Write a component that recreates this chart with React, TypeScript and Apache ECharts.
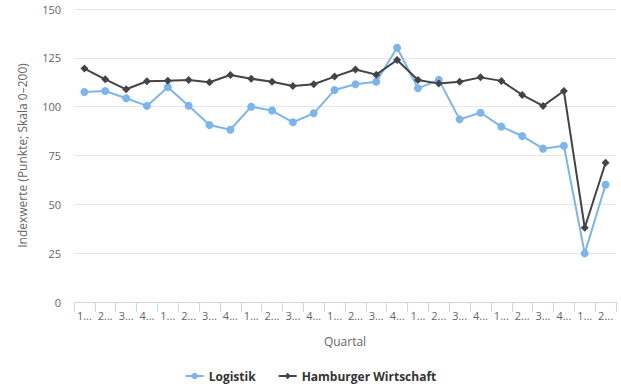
import React, { useEffect, useRef } from "react";
import * as echarts from "echarts";

const categories = [
  "1. Quartal 2014", "2. Quartal 2014", "3. Quartal 2014", "4. Quartal 2014",
  "1. Quartal 2015", "2. Quartal 2015", "3. Quartal 2015", "4. Quartal 2015",
  "1. Quartal 2016", "2. Quartal 2016", "3. Quartal 2016", "4. Quartal 2016",
  "1. Quartal 2017", "2. Quartal 2017", "3. Quartal 2017", "4. Quartal 2017",
  "1. Quartal 2018", "2. Quartal 2018", "3. Quartal 2018", "4. Quartal 2018",
  "1. Quartal 2019", "2. Quartal 2019", "3. Quartal 2019", "4. Quartal 2019",
  "1. Quartal 2020", "2. Quartal 2020",
];

const logistik = [
  107.5, 108, 104.3, 100.4, 110, 100.5, 90.6, 88.2, 100, 98, 92, 96.6,
  108.5, 111.5, 112.8, 130.2, 109.4, 113.7, 93.5, 96.9, 89.8, 85, 78.5, 80,
  24.9, 60,
];

const hamburgerWirtschaft = [
  119.5, 114, 108.9, 113, 113.3, 113.7, 112.5, 116.2, 114.3, 112.8, 110.6, 111.5,
  115.4, 119, 116.4, 123.9, 113.7, 111.8, 112.8, 115, 113.2, 106, 100.4, 108,
  38, 71.3,
];

const yTicks = { min: 0, max: 150, interval: 25 };

export default function App() {
  const ref = useRef<HTMLDivElement>(null);
  useEffect(() => {
    if (!ref.current) return;
    const chart = echarts.init(ref.current, undefined, { renderer: "svg" });
    const font = "'Open Sans', 'Noto Sans', sans-serif";
    chart.setOption({
      animation: false,
      textStyle: { fontFamily: font },
      grid: { left: 74, right: 5, top: 9, bottom: 89, containLabel: false },
      legend: {
        bottom: 4,
        left: "center",
        itemWidth: 18,
        itemHeight: 8,
        itemGap: 22,
        textStyle: { fontFamily: font, fontWeight: "bold", fontSize: 12, color: "#333333" },
        data: ["Logistik", "Hamburger Wirtschaft"],
      },
      xAxis: {
        type: "category",
        data: categories,
        boundaryGap: true,
        name: "Quartal",
        nameLocation: "middle",
        nameGap: 33,
        nameTextStyle: { fontFamily: font, fontSize: 12, color: "#666666" },
        axisLine: { lineStyle: { color: "#ccd6eb", width: 1 } },
        axisTick: { show: true, alignWithLabel: false, length: 10, lineStyle: { color: "#ccd6eb" } },
        axisLabel: {
          interval: 0,
          fontSize: 11,
          color: "#666666",
          margin: 8,
          formatter: (v: string) => v.charAt(0) + "...",
        },
        splitLine: { show: false },
      },
      yAxis: {
        type: "value",
        min: yTicks.min,
        max: yTicks.max,
        interval: yTicks.interval,
        name: "Indexwerte (Punkte; Skala 0–200)",
        nameLocation: "middle",
        nameGap: 46,
        nameRotate: 90,
        nameTextStyle: { fontFamily: font, fontSize: 12, color: "#666666" },
        axisLine: { show: false },
        axisTick: { show: false },
        axisLabel: { fontSize: 11, color: "#666666", margin: 13 },
        splitLine: { lineStyle: { color: "#e6e6e6", width: 1 } },
      },
      series: [
        {
          name: "Logistik",
          type: "line",
          data: logistik,
          color: "#7cb5ec",
          symbol: "circle",
          symbolSize: 8,
          lineStyle: { width: 2, color: "#7cb5ec" },
          itemStyle: { color: "#7cb5ec" },
        },
        {
          name: "Hamburger Wirtschaft",
          type: "line",
          data: hamburgerWirtschaft,
          color: "#434348",
          symbol: "diamond",
          symbolSize: 8,
          lineStyle: { width: 2, color: "#434348" },
          itemStyle: { color: "#434348" },
        },
      ],
    });
    return () => chart.dispose();
  }, []);
  return <div ref={ref} style={{ width: 621, height: 391, position: "absolute", left: 0, top: 0 }} />;
}
